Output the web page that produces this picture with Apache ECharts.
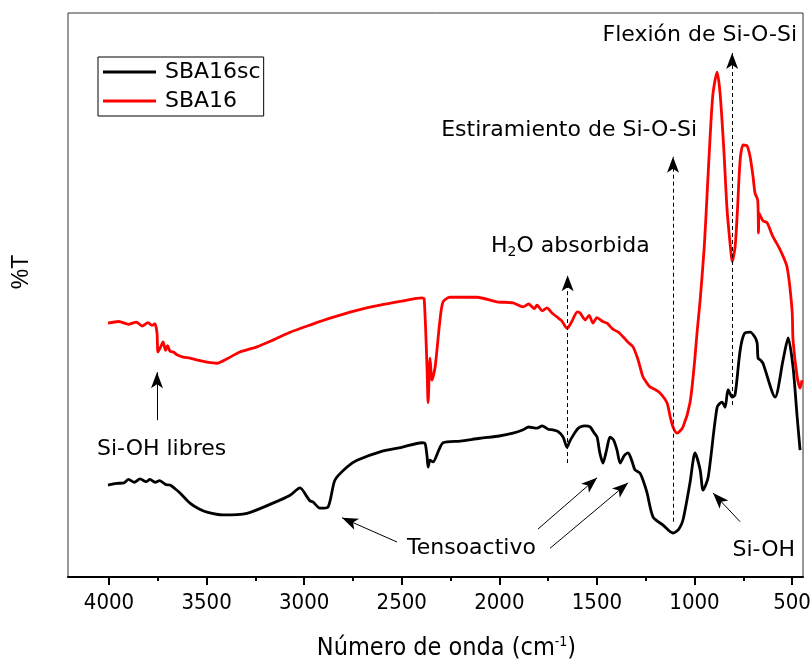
<!DOCTYPE html>
<html>
<head>
<meta charset="utf-8">
<script src="https://cdn.jsdelivr.net/npm/echarts@6/dist/echarts.min.js"></script>
<style>
  html, body { margin: 0; padding: 0; background: #fff; }
  #chart { width: 810px; height: 663px; }
</style>
</head>
<body>
<div id="chart"></div>
<script>
// FTIR spectra: wavenumber (cm-1) and transmittance (relative, offset traces)
const sba16Wavenumber = [4005,3950,3900,3860,3830,3800,3780,3765,3754,3749,3735,3723,3710,3700,3687,3670,3652,3620,3585,3540,3498,3447,3395,3329,3242,3160,3072,2960,2867,2740,2611,2500,2396,2385,2370,2365,2355,2345,2329,2304,2288,2253,2114,2012,1930,1878,1850,1820,1807,1780,1756,1730,1704,1680,1653,1630,1600,1586,1560,1540,1520,1500,1470,1448,1420,1390,1366,1340,1315,1290,1264,1240,1228,1200,1176,1141,1125,1110,1089,1059,1023,1000,987,971,950,935,920,905,884,869,850,833,815,807,792,780,766,751,730,715,700,690,676,672,669,650,628,600,561,526,500,495,474,459,449];
const sba16T = [45.0,45.3,44.8,45.2,44.5,45.1,44.6,44.9,43.3,39.9,40.8,41.7,40.2,41.0,40.0,39.9,39.4,39.0,38.8,38.4,38.1,37.9,38.7,39.9,40.8,42.0,43.4,44.8,45.9,47.2,48.2,48.9,49.5,49.3,36.7,30.9,38.8,34.9,37.2,45.6,48.8,49.6,49.6,48.8,48.6,47.9,48.4,47.6,48.2,47.2,47.7,46.8,46.1,45.4,44.1,45.2,47.0,46.8,45.6,46.4,45.0,46.0,45.3,45.0,44.0,43.4,42.6,41.6,40.8,38.6,35.5,34.2,33.7,33.2,32.6,30.9,28.5,26.6,25.5,26.6,30.9,38.0,43.3,49.1,58.5,68.1,78.0,85.8,89.5,85.8,76.0,65.1,58.2,55.9,58.5,65.0,73.9,76.6,76.4,74.5,71.0,68.1,66.8,61.0,64.5,63.2,62.8,60.5,58.0,55.0,47.3,42.0,35.5,33.5,34.9];

const sba16scWavenumber = [4005,3960,3923,3900,3870,3841,3810,3790,3764,3740,3710,3687,3660,3636,3585,3540,3498,3416,3293,3160,3072,3021,2985,2970,2955,2919,2878,2842,2780,2729,2611,2500,2396,2380,2370,2365,2355,2340,2310,2288,2200,2099,2000,1930,1878,1850,1807,1780,1750,1725,1700,1673,1653,1640,1627,1600,1586,1560,1535,1515,1499,1485,1469,1450,1433,1415,1397,1381,1360,1340,1320,1305,1279,1260,1243,1212,1161,1110,1080,1059,1023,997,971,956,930,884,859,843,828,807,792,766,745,715,690,679,674,660,649,587,546,520,495,474,459];
const sba16scT = [16.3,16.6,16.7,17.3,16.8,17.4,16.9,17.3,16.8,17.1,16.4,16.3,15.6,14.9,13.1,12.1,11.5,11.0,11.3,13.1,14.5,15.8,14.2,13.5,13.3,12.2,12.4,17.2,19.5,20.7,22.2,23.0,23.8,23.6,21.3,19.5,20.7,20.4,22.5,23.8,24.1,24.6,25.0,25.5,26.1,26.6,26.4,26.8,26.2,26.1,25.8,24.8,23.0,24.0,24.8,26.2,26.6,26.8,26.6,25.6,24.8,22.0,20.2,22.6,24.8,24.3,22.5,20.2,21.5,22.0,20.5,19.0,18.4,16.8,14.9,10.6,9.2,7.8,8.5,10.1,16.7,22.0,19.0,15.4,17.7,30.1,31.0,30.1,33.2,31.9,32.3,40.2,43.1,43.4,42.5,41.5,38.8,38.4,37.9,31.9,38.5,42.4,37.2,28.4,22.5];

const tickLabels = [4000,3500,3000,2500,2000,1500,1000,500];
const minorTicks = [3750,3250,2750,2250,1750,1250,750];

// Band assignments: arrows as [wavenumber, T] start/end pairs
const dashedArrows = [
  [[1650, 20.2], [1650, 53.5]],   // H2O absorbida
  [[1110, 9.8],  [1110, 74.5]],   // Estiramiento de Si-O-Si
  [[807, 30.5],  [807, 92.9]]     // Flexión de Si-O-Si
];
const solidArrows = [
  [[3754, 27.8], [3754, 36.3]],   // Si-OH libres
  [[2524, 6.2],  [2806, 10.5]],   // Tensoactivo
  [[1802, 8.5],  [1499, 17.6]],
  [[1740, 5.1],  [1340, 16.7]],
  [[766, 9.8],   [905, 14.9]]     // Si-OH
];

const zip = (xs, ys) => xs.map((x, i) => [x, ys[i]]);
const toMarkLine = arr => arr.map(a => [{ coord: a[0] }, { coord: a[1] }]);

const annoFont = "'DejaVu Sans', Verdana, sans-serif";
const narrowFont = "'Liberation Sans Narrow', 'DejaVu Sans Condensed', sans-serif";
const chart = echarts.init(document.getElementById('chart'), null, { renderer: 'canvas' });

chart.setOption({
  animation: false,
  backgroundColor: '#fff',
  grid: {
    left: 68, right: 7, top: 13, bottom: 86,
    containLabel: false, outerBoundsMode: 'none',
    show: true, borderColor: '#333', borderWidth: 1, backgroundColor: 'transparent'
  },
  legend: {
    data: ['SBA16sc', 'SBA16'],
    orient: 'vertical',
    left: 98, top: 57,
    icon: 'rect', itemWidth: 53, itemHeight: 3, itemGap: 5,
    padding: [3, 3, 3, 5],
    borderColor: '#000', borderWidth: 1,
    textStyle: { fontFamily: annoFont, fontSize: 22, color: '#000', lineHeight: 24, padding: [0, 0, 0, 4] }
  },
  xAxis: [{
    type: 'value', inverse: true, min: 444, max: 4210,
    name: 'Número de onda (cm{sup|-1})',
    nameLocation: 'middle', nameGap: 58,
    nameTextStyle: {
      fontFamily: narrowFont, fontSize: 25, color: '#000', padding: [0, 0, 0, 22],
      rich: { sup: { fontSize: 14, verticalAlign: 'top', padding: [0, 0, 13, 0], fontFamily: narrowFont } }
    },
    axisLine: { show: true, onZero: false, lineStyle: { color: '#000', width: 2 } },
    axisTick: { show: true, length: 8, lineStyle: { color: '#000', width: 2 }, customValues: tickLabels },
    axisLabel: { customValues: tickLabels, formatter: v => String(v), margin: 15, fontFamily: narrowFont, fontSize: 22, color: '#000' },
    splitLine: { show: false }
  }, {
    type: 'value', inverse: true, min: 444, max: 4210, position: 'bottom',
    axisLine: { show: false },
    axisTick: { show: true, length: 4, lineStyle: { color: '#000', width: 2 }, customValues: minorTicks },
    axisLabel: { show: false },
    splitLine: { show: false }
  }],
  yAxis: {
    type: 'value', min: 0, max: 100,
    axisLine: { show: false }, axisTick: { show: false }, axisLabel: { show: false }, splitLine: { show: false }
  },
  series: [
    {
      name: 'SBA16sc', type: 'line', data: zip(sba16scWavenumber, sba16scT),
      showSymbol: false, symbol: 'none', smooth: 0.25,
      lineStyle: { color: '#000', width: 2.8 }, itemStyle: { color: '#000' }, z: 3
    },
    {
      name: 'SBA16', type: 'line', data: zip(sba16Wavenumber, sba16T),
      showSymbol: false, symbol: 'none', smooth: 0.25,
      lineStyle: { color: '#ff0000', width: 2.8 }, itemStyle: { color: '#ff0000' }, z: 3
    },
    {
      name: 'dashedArrows', type: 'line', data: [], silent: true,
      markLine: {
        silent: true, symbol: ['none', 'arrow'], symbolSize: [9, 16],
        label: { show: false },
        lineStyle: { color: '#000', width: 1, type: [4, 3] },
        emphasis: { disabled: true },
        data: toMarkLine(dashedArrows)
      }
    },
    {
      name: 'solidArrows', type: 'line', data: [], silent: true,
      markLine: {
        silent: true, symbol: ['none', 'arrow'], symbolSize: [9, 16],
        label: { show: false },
        lineStyle: { color: '#000', width: 1, type: 'solid' },
        emphasis: { disabled: true },
        data: toMarkLine(solidArrows)
      }
    }
  ],
  graphic: [
    // y-axis title
    { type: 'text', x: 22, y: 272, rotation: Math.PI / 2, style: { text: '%T', align: 'center', verticalAlign: 'middle', font: "23px 'Liberation Sans', Arial, sans-serif", fill: '#000' } },
    { type: 'text', x: 797, y: 35, style: { text: 'Flexión de Si-O-Si', align: 'right', verticalAlign: 'middle', font: '22px ' + annoFont, fill: '#000' } },
    { type: 'text', x: 697, y: 130, style: { text: 'Estiramiento de Si-O-Si', align: 'right', verticalAlign: 'middle', font: '22px ' + annoFont, fill: '#000' } },
    { type: 'text', x: 491, y: 246, style: {
        text: 'H{sub|2}O absorbida', align: 'left', verticalAlign: 'middle', font: '22px ' + annoFont, fill: '#000',
        rich: { sub: { fontSize: 14, fontFamily: annoFont, padding: [12, 0, 0, 0] } } } },
    { type: 'text', x: 97, y: 449, style: { text: 'Si-OH libres', align: 'left', verticalAlign: 'middle', font: '22px ' + annoFont, fill: '#000' } },
    { type: 'text', x: 407, y: 548, style: { text: 'Tensoactivo', align: 'left', verticalAlign: 'middle', font: '22px ' + annoFont, fill: '#000' } },
    { type: 'text', x: 795, y: 550, style: { text: 'Si-OH', align: 'right', verticalAlign: 'middle', font: '22px ' + annoFont, fill: '#000' } }
  ]
});
</script>
</body>
</html>
